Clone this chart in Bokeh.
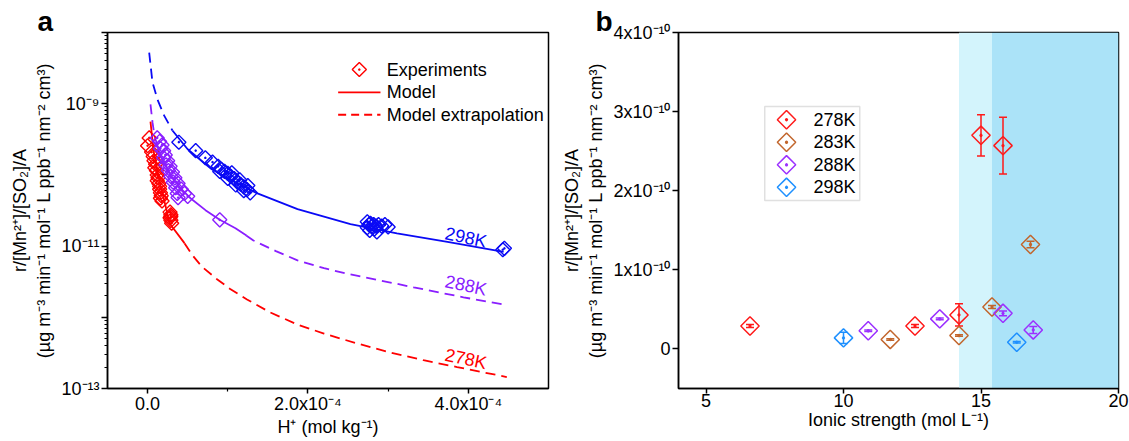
import numpy as np
from bokeh.plotting import figure
from bokeh.layouts import row
from bokeh.models import FixedTicker, BoxAnnotation, Label, Whisker, TeeHead, ColumnDataSource
from bokeh.embed import file_html
from bokeh.resources import INLINE

FONT = "Liberation Sans"

# ------------------------------------------------------------------ panel a data
# experiments: H+ (mol kg-1) and r/[Mn2+]/[SO2]/A
h_278 = [0.02e-4, 0.00e-4, 0.05e-4, 0.07e-4, 0.08e-4, 0.10e-4, 0.09e-4, 0.11e-4, 0.12e-4,
         0.13e-4, 0.12e-4, 0.14e-4, 0.15e-4, 0.15e-4, 0.16e-4, 0.17e-4, 0.16e-4, 0.18e-4,
         0.28e-4, 0.29e-4, 0.28e-4, 0.29e-4, 0.30e-4, 0.29e-4]
r_278 = [3.31e-10, 2.57e-10, 2.09e-10, 1.82e-10, 1.58e-10, 1.41e-10, 1.26e-10, 1.15e-10, 1.0e-10,
         9.1e-11, 8.3e-11, 7.6e-11, 6.9e-11, 6.3e-11, 5.6e-11, 5.1e-11, 4.7e-11, 4.3e-11,
         3.0e-11, 2.75e-11, 2.5e-11, 2.3e-11, 2.1e-11, 2.6e-11]

h_288 = [0.12e-4, 0.15e-4, 0.18e-4, 0.16e-4, 0.20e-4, 0.22e-4, 0.20e-4, 0.25e-4, 0.23e-4, 0.28e-4,
         0.26e-4, 0.31e-4, 0.29e-4, 0.34e-4, 0.32e-4, 0.38e-4, 0.35e-4, 0.42e-4, 0.37e-4, 0.46e-4,
         0.38e-4, 0.50e-4, 0.90e-4]
r_288 = [3.31e-10, 2.95e-10, 2.63e-10, 2.34e-10, 2.19e-10, 1.91e-10, 1.74e-10, 1.58e-10, 1.38e-10, 1.32e-10,
         1.15e-10, 1.10e-10, 9.5e-11, 9.1e-11, 7.9e-11, 7.6e-11, 6.6e-11, 6.3e-11, 5.5e-11, 5.5e-11,
         4.8e-11, 5.0e-11, 2.34e-11]

h_298 = [0.39e-4, 0.60e-4, 0.72e-4, 0.81e-4,
         0.88e-4, 0.92e-4, 0.96e-4, 1.00e-4, 1.04e-4, 1.08e-4, 1.12e-4, 1.16e-4, 1.20e-4, 1.24e-4, 1.28e-4,
         0.90e-4, 1.00e-4, 1.10e-4, 1.20e-4, 1.05e-4, 1.15e-4, 1.25e-4,
         2.74e-4, 2.76e-4, 2.74e-4, 2.78e-4, 2.80e-4, 2.77e-4, 2.82e-4, 2.85e-4, 2.88e-4, 2.92e-4,
         2.96e-4, 3.00e-4, 2.86e-4, 2.83e-4,
         4.45e-4, 4.43e-4]
r_298 = [2.88e-10, 2.19e-10, 1.74e-10, 1.51e-10,
         1.32e-10, 1.20e-10, 1.12e-10, 1.05e-10, 9.5e-11, 8.9e-11, 7.9e-11, 7.4e-11, 6.8e-11, 6.2e-11, 5.6e-11,
         1.12e-10, 8.9e-11, 7.2e-11, 6.0e-11, 1.07e-10, 8.5e-11, 7.1e-11,
         2.19e-11, 2.0e-11, 1.82e-11, 2.09e-11, 1.91e-11, 1.66e-11, 2.0e-11, 1.91e-11, 2.0e-11, 1.91e-11,
         2.0e-11, 1.86e-11, 1.58e-11, 1.74e-11,
         9.3e-12, 8.9e-12]

# model curves (solid = model, dashed = model extrapolation)
mod_h_278 = [0.036e-4, 0.074e-4, 0.161e-4, 0.223e-4, 0.273e-4, 0.46e-4]
mod_r_278 = [5.6e-10, 2.19e-10, 7.1e-11, 3.7e-11, 2.09e-11, 1.10e-11]
ext_h_278 = [0.46e-4, 0.56e-4, 0.68e-4, 0.87e-4, 1.03e-4, 1.24e-4, 1.53e-4, 1.87e-4, 2.20e-4,
             2.61e-4, 3.03e-4, 3.44e-4, 3.86e-4, 4.48e-4]
ext_r_278 = [1.10e-11, 7.4e-12, 5.1e-12, 3.4e-12, 2.5e-12, 1.78e-12, 1.17e-12, 7.9e-13, 5.9e-13,
             4.3e-13, 3.2e-13, 2.5e-13, 2.0e-13, 1.45e-13]

ext1_h_288 = [0.036e-4, 0.061e-4, 0.086e-4]
ext1_r_288 = [9.8e-10, 5.5e-10, 3.55e-10]
mod_h_288 = [0.086e-4, 0.161e-4, 0.286e-4, 0.41e-4, 0.535e-4, 0.722e-4, 0.90e-4, 1.096e-4, 1.233e-4]
mod_r_288 = [3.55e-10, 1.86e-10, 9.8e-11, 6.5e-11, 4.7e-11, 3.2e-11, 2.34e-11, 1.78e-11, 1.41e-11]
ext_h_288 = [1.23e-4, 1.32e-4, 1.60e-4, 1.87e-4, 2.20e-4, 2.49e-4, 3.11e-4, 3.32e-4, 3.94e-4, 4.48e-4]
ext_r_288 = [1.41e-11, 1.20e-11, 8.5e-12, 6.3e-12, 4.9e-12, 4.1e-12, 2.95e-12, 2.63e-12, 1.91e-12, 1.48e-12]

ext_h_298 = [0.02e-4, 0.061e-4, 0.123e-4, 0.207e-4, 0.31e-4]
ext_r_298 = [5.2e-9, 2.0e-9, 1.15e-9, 6.8e-10, 4.2e-10]
mod_h_298 = [0.31e-4, 0.50e-4, 0.80e-4, 1.05e-4, 1.37e-4, 1.87e-4, 2.53e-4, 3.11e-4, 3.74e-4, 4.44e-4]
mod_r_298 = [4.2e-10, 2.29e-10, 1.20e-10, 8.3e-11, 5.5e-11, 3.3e-11, 2.04e-11, 1.51e-11, 1.15e-11, 8.3e-12]

curve_labels_a = ["298K", "288K", "278K"]
curve_label_h = [3.97e-4, 3.97e-4, 3.97e-4]
curve_label_r = [1.32e-11, 2.8e-12, 2.6e-13]

xa_ticks = [0.0, 2e-4, 4e-4]
xa_tick_labels = ["0.0", "2.0x10\u207b\u2074", "4.0x10\u207b\u2074"]
ya_ticks = [1e-13, 1e-12, 1e-11, 1e-10, 1e-9, 1e-8]
ya_tick_labels = ["10\u207b\u00b9\u00b3", "", "10\u207b\u00b9\u00b9", "", "10\u207b\u2079", ""]

# ------------------------------------------------------------------ panel b data
ionic_278 = [6.6, 12.6, 14.2, 15.0, 15.8]
rate_278 = [0.29e-10, 0.29e-10, 0.43e-10, 2.70e-10, 2.57e-10]
err_278 = [0.02e-10, 0.02e-10, 0.14e-10, 0.26e-10, 0.36e-10]
ionic_283 = [11.7, 14.2, 15.4, 16.8]
rate_283 = [0.12e-10, 0.17e-10, 0.53e-10, 1.32e-10]
err_283 = [0.01e-10, 0.01e-10, 0.02e-10, 0.04e-10]
ionic_288 = [10.9, 13.5, 15.8, 16.9]
rate_288 = [0.23e-10, 0.38e-10, 0.45e-10, 0.24e-10]
err_288 = [0.01e-10, 0.01e-10, 0.03e-10, 0.045e-10]
ionic_298 = [10.0, 16.3]
rate_298 = [0.14e-10, 0.085e-10]
err_298 = [0.07e-10, 0.01e-10]
series_b = ["278K", "283K", "288K", "298K"]
band_edges = [14.2, 15.4, 20.0]

xb_ticks = [5, 10, 15, 20]
yb_ticks = [0.0, 1e-10, 2e-10, 3e-10, 4e-10]
yb_tick_labels = ["0", "1x10\u207b\u00b9\u2070", "2x10\u207b\u00b9\u2070", "3x10\u207b\u00b9\u2070", "4x10\u207b\u00b9\u2070"]

# ------------------------------------------------------------------ styling
RED, PURPLE, BLUE = "#FF0000", "#8A1EFF", "#0A0AF5"
COLS_B = ["#FF1A1A", "#C2662D", "#9B30FF", "#1E90FF"]
YLABEL = "r/[Mn\u00b2\u207a]/[SO\u2082]/A\n(\u00b5g m\u207b\u00b3 min\u207b\u00b9 mol\u207b\u00b9 L ppb\u207b\u00b9 nm\u207b\u00b2 cm\u00b3)"
DASH = "10 6"
XA = (-5e-5, 5e-4)
YA = (1e-13, 1e-8)
XB = (4, 20)
YB = (-0.5e-10, 4e-10)
ANG = np.pi / 4


def style(p, panel_letter, letter_offset):
    p.grid.visible = False
    p.outline_line_color = "black"
    p.outline_line_width = 1.5
    p.background_fill_color = "white"
    p.title.text = panel_letter
    p.title.align = "left"
    p.title.offset = letter_offset
    p.title.standoff = -8
    p.title.text_font = FONT
    p.title.text_font_size = "28px"
    p.title.text_font_style = "bold"
    p.title.text_color = "black"
    for ax in p.axis:
        ax.axis_line_width = 1.5
        ax.major_tick_line_width = 1.5
        ax.minor_tick_line_width = 1.2
        ax.major_tick_in = 0
        ax.major_tick_out = 6
        ax.minor_tick_in = 0
        ax.minor_tick_out = 3
        ax.major_label_text_font = FONT
        ax.major_label_text_font_size = "18px"
        ax.major_label_text_color = "black"
        ax.axis_label_text_font = FONT
        ax.axis_label_text_font_size = "18px"
        ax.axis_label_text_font_style = "normal"
        ax.axis_label_text_color = "black"
        ax.major_label_standoff = 2
        ax.axis_label_standoff = 4
    for ax in p.xaxis:
        ax.major_tick_out = 5
        ax.major_label_standoff = 0
        ax.axis_label_standoff = 0


def fa(fx, fy):
    lo, hi = np.log10(YA[0]), np.log10(YA[1])
    return XA[0] + fx * (XA[1] - XA[0]), 10 ** (hi - fy * (hi - lo))


def fb(fx, fy):
    return XB[0] + fx * (XB[1] - XB[0]), YB[1] - fy * (YB[1] - YB[0])


# ------------------------------------------------------------------ panel a
p1 = figure(width=556, height=441, x_range=XA, y_range=YA, y_axis_type="log",
            output_backend="svg", toolbar_location=None,
            min_border_left=107, min_border_right=8, min_border_top=32, min_border_bottom=53)
style(p1, "a", -70)
p1.xaxis.ticker = FixedTicker(ticks=xa_ticks, minor_ticks=[1e-4, 3e-4])
p1.xaxis.major_label_overrides = dict(zip(xa_ticks, xa_tick_labels))
minor_a = [k * 10.0 ** e for e in range(-13, -8) for k in range(2, 10)]
p1.yaxis.ticker = FixedTicker(ticks=ya_ticks, minor_ticks=minor_a)
p1.yaxis.major_label_overrides = dict(zip(ya_ticks, ya_tick_labels))
p1.xaxis.axis_label = "H\u207a (mol kg\u207b\u00b9)"
p1.yaxis.axis_label = YLABEL

for hx, ry, col in [(ext_h_278, ext_r_278, RED), (ext1_h_288, ext1_r_288, PURPLE),
                    (ext_h_288, ext_r_288, PURPLE), (ext_h_298, ext_r_298, BLUE)]:
    p1.line(hx, ry, line_color=col, line_width=1.8, line_dash=DASH)
for hx, ry, col in [(mod_h_278, mod_r_278, RED), (mod_h_288, mod_r_288, PURPLE),
                    (mod_h_298, mod_r_298, BLUE)]:
    p1.line(hx, ry, line_color=col, line_width=1.8)
for hx, ry, col in [(h_278, r_278, RED), (h_288, r_288, PURPLE), (h_298, r_298, BLUE)]:
    p1.scatter(hx, ry, marker="square_dot", size=10, angle=ANG, fill_alpha=0,
               line_color=col, line_width=1.4)

for txt, hx, ry, col in zip(curve_labels_a, curve_label_h, curve_label_r, [BLUE, PURPLE, RED]):
    p1.add_layout(Label(x=hx, y=ry, text=txt, text_color=col, text_font=FONT,
                        text_font_size="18px", text_align="center", text_baseline="middle",
                        angle=-0.21))

# legend of panel a
mx, my = fa(0.571, 0.104)
p1.scatter([mx], [my], marker="square_dot", size=10, angle=ANG, fill_alpha=0,
           line_color=RED, line_width=1.4)
lx0, ly1 = fa(0.523, 0.168)
lx1, _ = fa(0.619, 0.168)
p1.line([lx0, lx1], [ly1, ly1], line_color=RED, line_width=1.8)
_, ly2 = fa(0.523, 0.231)
p1.line([lx0, lx1], [ly2, ly2], line_color=RED, line_width=1.8, line_dash="8 5")
tx, _ = fa(0.633, 0)
for txt, ty in zip(["Experiments", "Model", "Model extrapolation"], [my, ly1, ly2]):
    p1.add_layout(Label(x=tx, y=ty, text=txt, text_font=FONT, text_font_size="18px",
                        text_baseline="middle", text_align="left", text_color="black"))

# ------------------------------------------------------------------ panel b
p2 = figure(width=573, height=441, x_range=XB, y_range=YB,
            output_backend="svg", toolbar_location=None,
            min_border_left=122, min_border_right=11, min_border_top=32, min_border_bottom=53)
style(p2, "b", -83)
p2.xaxis.ticker = FixedTicker(ticks=xb_ticks, minor_ticks=[])
p2.yaxis.ticker = FixedTicker(ticks=yb_ticks, minor_ticks=[])
p2.yaxis.major_label_overrides = dict(zip(yb_ticks, yb_tick_labels))
p2.xaxis.axis_label = "Ionic strength (mol L\u207b\u00b9)"
p2.yaxis.axis_label = YLABEL

p2.add_layout(BoxAnnotation(left=band_edges[0], right=band_edges[1], fill_color="#D3F4FC",
                            fill_alpha=1, line_alpha=0, level="underlay"))
p2.add_layout(BoxAnnotation(left=band_edges[1], right=band_edges[2], fill_color="#ABE3F8",
                            fill_alpha=1, line_alpha=0, level="underlay"))

for xs, ys, es, col in zip([ionic_278, ionic_283, ionic_288, ionic_298],
                           [rate_278, rate_283, rate_288, rate_298],
                           [err_278, err_283, err_288, err_298], COLS_B):
    src = ColumnDataSource(dict(x=xs, y=ys,
                                upper=[y + e for y, e in zip(ys, es)],
                                lower=[y - e for y, e in zip(ys, es)]))
    p2.scatter("x", "y", source=src, marker="square_dot", size=13, angle=ANG,
               fill_alpha=0, line_color=col, line_width=1.5)
    p2.add_layout(Whisker(source=src, base="x", upper="upper", lower="lower",
                          line_color=col, line_width=1.5,
                          upper_head=TeeHead(size=8, line_color=col, line_width=1.5),
                          lower_head=TeeHead(size=8, line_color=col, line_width=1.5)))

# legend of panel b
bl, bt = fb(0.196, 0.208)
br, bb = fb(0.412, 0.472)
p2.add_layout(BoxAnnotation(left=bl, right=br, top=bt, bottom=bb, fill_alpha=0,
                            line_color="#999999", line_width=1.5))
for i, (txt, col) in enumerate(zip(series_b, COLS_B)):
    gx, gy = fb(0.2455, 0.245 + i * 0.0633)
    tx2, _ = fb(0.307, 0)
    p2.scatter([gx], [gy], marker="square_dot", size=13, angle=ANG, fill_alpha=0,
               line_color=col, line_width=1.5)
    p2.add_layout(Label(x=tx2, y=gy, text=txt, text_font=FONT, text_font_size="18px",
                        text_baseline="middle", text_align="left", text_color="black"))

layout = row(p1, p2)
open("out.html", "w").write(file_html(layout, INLINE))
